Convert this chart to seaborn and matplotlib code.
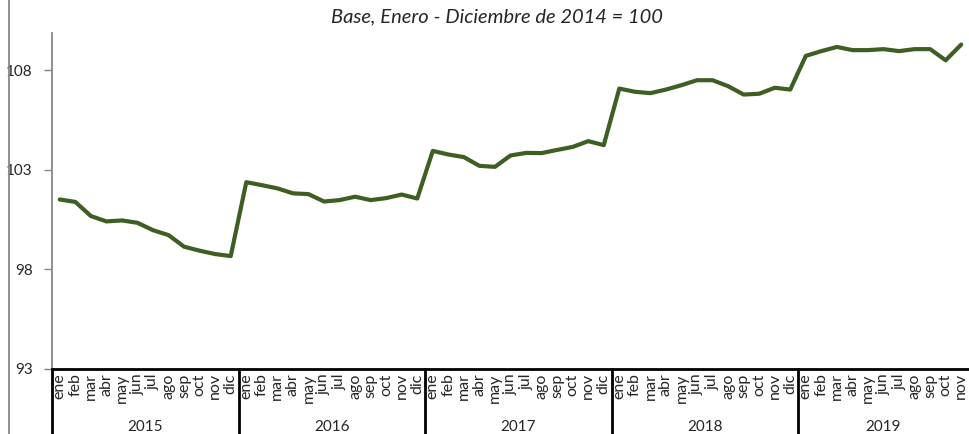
import pandas as pd
import seaborn as sns
import matplotlib.pyplot as plt
from matplotlib.lines import Line2D

# monthly index values, ene 2015 - nov 2019
months = ['ene', 'feb', 'mar', 'abr', 'may', 'jun', 'jul', 'ago', 'sep', 'oct', 'nov', 'dic']
years = ['2015', '2016', '2017', '2018', '2019']
v2015 = [101.51, 101.39, 100.68, 100.41, 100.46, 100.34, 99.97, 99.72, 99.14, 98.94, 98.77, 98.67]
v2016 = [102.38, 102.23, 102.07, 101.82, 101.78, 101.41, 101.48, 101.65, 101.48, 101.58, 101.76, 101.56]
v2017 = [103.95, 103.77, 103.64, 103.20, 103.15, 103.72, 103.85, 103.84, 104.00, 104.15, 104.44, 104.24]
v2018 = [107.08, 106.92, 106.85, 107.03, 107.25, 107.50, 107.50, 107.20, 106.78, 106.82, 107.12, 107.03]
v2019 = [108.72, 108.96, 109.17, 109.01, 109.01, 109.06, 108.96, 109.06, 109.06, 108.50, 109.29]

values = v2015 + v2016 + v2017 + v2018 + v2019
df = pd.DataFrame({'idx': range(len(values)), 'valor': values})
df['mes'] = [months[i % 12] for i in df['idx']]
df['anio'] = [years[i // 12] for i in df['idx']]

sns.set_style('white')
plt.rcParams['font.family'] = ['Lato', 'DejaVu Sans']

fig = plt.figure(figsize=(9.69, 4.34), dpi=100)
ax = fig.add_axes([52 / 969, 1 - 369 / 434, 1 - 52 / 969, 336 / 434])

sns.lineplot(data=df, x='idx', y='valor', color='#3E5F24', linewidth=3, ax=ax)

n = len(values)
ax.set_xlim(-0.5, n - 0.5)
ax.set_ylim(93, 109.87)
ax.set_yticks([93, 98, 103, 108])
ax.set_xlabel('')
ax.set_ylabel('')

# month labels, no major tick marks; little marks between months
ax.set_xticks(df['idx'])
ax.set_xticklabels(df['mes'], rotation=90, fontsize=11.5)
ax.set_xticks([i - 0.5 for i in range(n + 1)], minor=True)
ax.tick_params(axis='x', which='major', length=0, pad=3)
ax.tick_params(axis='x', which='minor', length=3, width=1.5, color='black', direction='out')
ax.tick_params(axis='y', length=6, width=1, color='#868686', pad=8, labelsize=11, left=True)

for s in ['top', 'right']:
    ax.spines[s].set_visible(False)
ax.spines['bottom'].set_color('black')
ax.spines['bottom'].set_linewidth(2)
ax.spines['left'].set_color('#868686')
ax.spines['left'].set_linewidth(1.3)

# year groups under the month labels
trans = ax.get_xaxis_transform()
for k, y in enumerate(years):
    start = k * 12
    end = min(start + 12, n)
    ax.plot([start - 0.5, start - 0.5], [0, -0.2], color='black', lw=2, transform=trans, clip_on=False)
    ax.text((start + end - 1) / 2, -0.173, y, transform=trans, ha='center', va='center', fontsize=11)

fig.text(0.513, 0.961, 'Base, Enero - Diciembre de 2014 = 100', ha='center', va='center',
         fontsize=14.5, style='italic')
fig.add_artist(Line2D([8.5 / 969, 8.5 / 969], [0, 1], color='#868686', lw=1.3))

fig.savefig('out.png', dpi=100)
